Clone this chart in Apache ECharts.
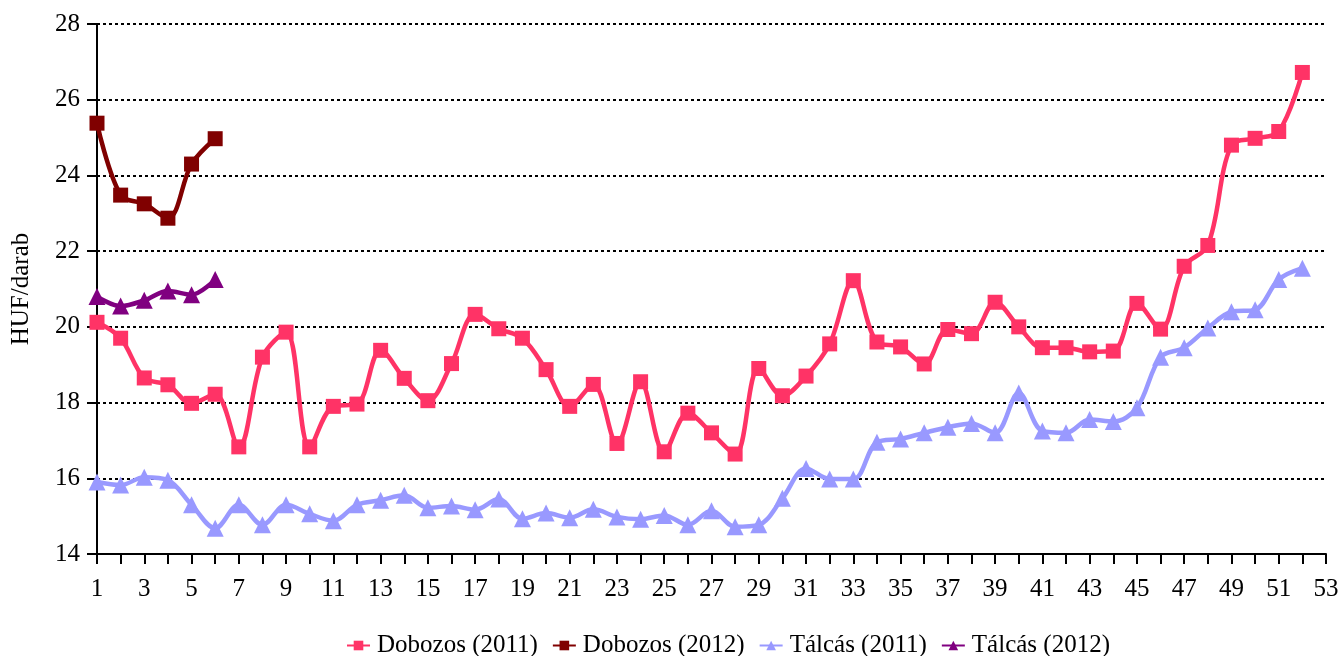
<!DOCTYPE html>
<html><head><meta charset="utf-8">
<script src="https://cdn.jsdelivr.net/npm/echarts@6/dist/echarts.min.js"></script>
<style>html,body{margin:0;padding:0;background:#fff}#c{width:1342px;height:656px}</style>
</head><body><div id="c"></div>
<script>
const weeks = ['1','2','3','4','5','6','7','8','9','10','11','12','13','14','15','16','17','18','19','20','21','22','23','24','25','26','27','28','29','30','31','32','33','34','35','36','37','38','39','40','41','42','43','44','45','46','47','48','49','50','51','52','53'];
const dobozos2011 = [20.12,19.7,18.65,18.47,17.98,18.22,16.83,19.2,19.86,16.83,17.9,17.96,19.38,18.64,18.05,19.03,20.33,19.95,19.7,18.87,17.9,18.48,16.92,18.55,16.7,17.72,17.2,16.64,18.9,18.18,18.7,19.55,21.22,19.6,19.47,19.02,19.93,19.82,20.65,20.0,19.45,19.45,19.34,19.36,20.62,19.94,21.6,22.15,24.8,24.98,25.16,26.72];
const dobozos2012 = [25.38,23.48,23.25,22.87,24.3,24.97];
const talcas2011 = [15.9,15.82,16.03,15.95,15.3,14.68,15.3,14.77,15.3,15.06,14.88,15.3,15.42,15.55,15.22,15.27,15.17,15.45,14.93,15.08,14.96,15.18,14.98,14.92,15.02,14.77,15.14,14.72,14.77,15.47,16.26,15.98,15.98,16.95,17.04,17.2,17.35,17.45,17.2,18.25,17.25,17.2,17.55,17.5,17.86,19.2,19.45,19.97,20.4,20.45,21.25,21.55];
const talcas2012 = [20.8,20.55,20.7,20.95,20.85,21.25];
const yTicks = {min:14, max:28, step:2};

const font = 'Liberation Serif';
function mk(name, data, color, symbol, size){
  return {name, type:'line', data, smooth:0.35, symbol, symbolSize:size,
    showAllSymbol:true, showSymbol:true,
    lineStyle:{color, width:4.5}, itemStyle:{color}, z:3};
}
const chart = echarts.init(document.getElementById('c'), null, {renderer:'canvas'});
chart.setOption({
  animation:false,
  backgroundColor:'#fff',
  grid:{left:97, right:16, top:24, bottom:102, containLabel:false},
  legend:{
    top:628, left:341,
    itemWidth:23, itemHeight:12, itemGap:14,
    textStyle:{fontFamily:font, fontSize:25, color:'#000', padding:[0,0,0,2]},
    data:['Dobozos (2011)','Dobozos (2012)','Tálcás (2011)','Tálcás (2012)']
  },
  xAxis:{
    type:'category', data:weeks, boundaryGap:false,
    axisLine:{lineStyle:{color:'#000', width:2}},
    axisTick:{show:true, interval:0, length:10, lineStyle:{color:'#000', width:2}},
    axisLabel:{interval:1, color:'#000', fontFamily:font, fontSize:25, margin:23},
    splitLine:{show:false}
  },
  yAxis:{
    type:'value', min:yTicks.min, max:yTicks.max, interval:yTicks.step,
    name:'HUF/darab', nameLocation:'middle', nameGap:63, nameRotate:90,
    nameTextStyle:{fontFamily:font, fontSize:25, color:'#000'},
    axisLine:{show:true, lineStyle:{color:'#000', width:2}},
    axisTick:{show:true, length:10, lineStyle:{color:'#000', width:2}},
    axisLabel:{color:'#000', fontFamily:font, fontSize:25, margin:17},
    splitLine:{show:true, lineStyle:{color:'#000', width:2, type:[3,3]}}
  },
  series:[
    mk('Dobozos (2011)', dobozos2011, '#FF3366', 'rect', 15),
    mk('Dobozos (2012)', dobozos2012, '#800000', 'rect', 15),
    mk('Tálcás (2011)', talcas2011, '#9999FF', 'triangle', 17),
    mk('Tálcás (2012)', talcas2012, '#800080', 'triangle', 17)
  ]
});
</script></body></html>
